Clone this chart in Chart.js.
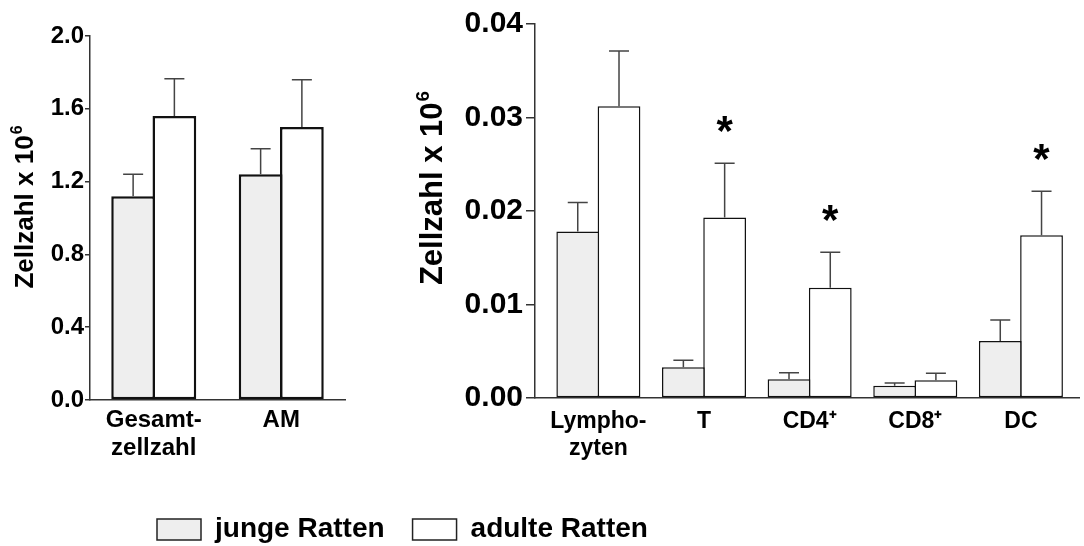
<!DOCTYPE html>
<html>
<head>
<meta charset="utf-8">
<script src="https://cdn.jsdelivr.net/npm/chart.js@4.4.1/dist/chart.umd.min.js"></script>
<style>
	body { margin: 0; background: #fff; }
	#wrap { position: relative; width: 1084px; height: 546px; overflow: hidden; }
	canvas { position: absolute; }
</style>
</head>
<body>
<div id="wrap">
	<canvas id="left" width="370" height="500" style="left:0;top:0;width:370px;height:500px"></canvas>
	<canvas id="right" width="704" height="500" style="left:380px;top:0;width:704px;height:500px"></canvas>
	<canvas id="legend" width="1084" height="300" style="left:0;top:400px;width:1084px;height:300px"></canvas>
</div>
<script>
var FONT = '"Liberation Sans", Arial, sans-serif';
var GREY = '#eeeeee';

var seriesNames = ['junge Ratten', 'adulte Ratten'];
var yTitle = 'Zellzahl x 10';
var yTitleSup = '6';

// left panel
var leftCats = [['Gesamt-', 'zellzahl'], 'AM'];
var leftJung = [1.12, 1.24];
var leftJungErr = [0.12, 0.14];
var leftAdult = [1.56, 1.50];
var leftAdultErr = [0.205, 0.26];
var leftTicks = [0, 0.4, 0.8, 1.2, 1.6, 2.0];
var leftTickLabels = ['0.0', '0.4', '0.8', '1.2', '1.6', '2.0'];

// right panel
var rightCats = [['Lympho-', 'zyten'], 'T', 'CD4\u207A', 'CD8\u207A', 'DC'];
var rightJung = [0.0178, 0.0033, 0.0020, 0.0013, 0.0061];
var rightJungErr = [0.0031, 0.00075, 0.0007, 0.0003, 0.00225];
var rightAdult = [0.0312, 0.0193, 0.0118, 0.0019, 0.0174];
var rightAdultErr = [0.0059, 0.0058, 0.0038, 0.00075, 0.0047];
var rightSig = [false, true, true, false, true];
var rightTicks = [0, 0.01, 0.02, 0.03, 0.04];
var rightTickLabels = ['0.00', '0.01', '0.02', '0.03', '0.04'];

// error bars (upwards only) + asterisks
var errorPlugin = {
	id: 'errs',
	afterDatasetsDraw: function(chart) {
		var ctx = chart.ctx;
		var yScale = chart.scales.y;
		var o = chart.options.plugins.errs;
		ctx.save();
		chart.data.datasets.forEach(function(ds, di) {
			var meta = chart.getDatasetMeta(di);
			meta.data.forEach(function(bar, i) {
				var v = typeof ds.data[i] === 'object' ? ds.data[i].y : ds.data[i];
				var top = yScale.getPixelForValue(v + ds.err[i]);
				ctx.strokeStyle = '#444';
				ctx.lineWidth = 1.5;
				ctx.beginPath();
				ctx.moveTo(bar.x, bar.y);
				ctx.lineTo(bar.x, top);
				ctx.moveTo(bar.x - o.cap, top);
				ctx.lineTo(bar.x + o.cap, top);
				ctx.stroke();
				if (ds.sig && ds.sig[i]) {
					ctx.font = 'bold ' + o.starSize + 'px ' + FONT;
					ctx.fillStyle = '#000';
					ctx.textAlign = 'center';
					ctx.textBaseline = 'alphabetic';
					var m = ctx.measureText('*');
					var c = top - o.starGap;
					var b = c - (m.actualBoundingBoxDescent - m.actualBoundingBoxAscent) / 2;
					ctx.fillText('*', bar.x, b);
				}
			});
		});
		ctx.restore();
	}
};

// rotated axis title with superscript
var titlePlugin = {
	id: 'ytitle',
	afterDraw: function(chart) {
		var o = chart.options.plugins.ytitle;
		var ctx = chart.ctx;
		var mainFont = 'bold ' + o.size + 'px ' + FONT;
		var supFont = 'bold ' + Math.round(o.size * 0.62) + 'px ' + FONT;
		ctx.save();
		ctx.translate(o.x, o.y);
		ctx.rotate(-Math.PI / 2);
		ctx.fillStyle = '#000';
		ctx.textBaseline = 'alphabetic';
		ctx.textAlign = 'left';
		ctx.font = mainFont;
		var w1 = ctx.measureText(yTitle).width;
		ctx.font = supFont;
		var w2 = ctx.measureText(yTitleSup).width;
		var start = -(w1 + w2 + 1) / 2;
		ctx.font = mainFont;
		ctx.fillText(yTitle, start, 0);
		ctx.font = supFont;
		ctx.fillText(yTitleSup, start + w1 + 1, -o.size * 0.42);
		ctx.restore();
	}
};

function barSet(label, values, errs, fill, bw, sig) {
	return {
		label: label,
		data: values,
		err: errs,
		sig: sig,
		backgroundColor: fill,
		borderColor: '#111',
		borderWidth: bw,
		borderSkipped: false
	};
}

// left chart
new Chart(document.getElementById('left'), {
	type: 'bar',
	data: {
		labels: leftCats,
		datasets: [
			barSet(seriesNames[0], leftJung, leftJungErr, GREY, 2.5),
			barSet(seriesNames[1], leftAdult, leftAdultErr, '#ffffff', 2.5)
		]
	},
	options: {
		animation: false,
		responsive: false,
		categoryPercentage: 82.5 / 127.5,
		barPercentage: 43.75 / 41.25,
		layout: { padding: { top: 36, right: 25, left: 0, bottom: 0 } },
		scales: {
			x: {
				grid: { display: false, drawTicks: false },
				border: { display: true, color: '#333', width: 1.5 },
				ticks: { color: '#000', padding: 6, maxRotation: 0, font: { family: FONT, size: 24, weight: 'bold', lineHeight: 1.17 } },
				afterFit: function(s) { s.height = 100; }
			},
			y: {
				min: 0,
				max: 2.0,
				grid: { drawOnChartArea: false, drawTicks: true, tickLength: 5, color: '#333', lineWidth: 1.5 },
				border: { display: true, color: '#333', width: 1.5 },
				afterBuildTicks: function(s) { s.ticks = leftTicks.map(function(v) { return { value: v }; }); },
				ticks: {
					color: '#000', padding: 1,
					font: { family: FONT, size: 24, weight: 'bold' },
					callback: function(v, i) { return leftTickLabels[i]; }
				},
				afterFit: function(s) { s.width = 90; }
			}
		},
		plugins: {
			legend: { display: false },
			tooltip: { enabled: false },
			errs: { cap: 10, starSize: 42, starGap: 39 },
			ytitle: { x: 33, y: 207, size: 26 }
		}
	},
	plugins: [errorPlugin, titlePlugin]
});

// right chart (linear x so the groups sit where the original put them)
function pts(values) {
	return values.map(function(v, i) { return { x: i, y: v }; });
}

new Chart(document.getElementById('right'), {
	type: 'bar',
	data: {
		datasets: [
			barSet(seriesNames[0], pts(rightJung), rightJungErr, GREY, 1.5),
			barSet(seriesNames[1], pts(rightAdult), rightAdultErr, '#ffffff', 1.5, rightSig)
		]
	},
	options: {
		animation: false,
		responsive: false,
		categoryPercentage: 82.5 / 105.6,
		barPercentage: 42.75 / 41.25,
		layout: { padding: { top: 24, right: 5, left: 0, bottom: 0 } },
		scales: {
			x: {
				type: 'linear',
				offset: false,
				min: -0.6,
				max: 4.55,
				grid: { display: false, drawTicks: false },
				border: { display: true, color: '#333', width: 1.5 },
				afterBuildTicks: function(s) { s.ticks = rightCats.map(function(c, i) { return { value: i }; }); },
				ticks: {
					color: '#000', padding: 10, maxRotation: 0, autoSkip: false,
					font: { family: FONT, size: 23, weight: 'bold', lineHeight: 1.17 },
					callback: function(v) { return rightCats[v]; }
				},
				afterFit: function(s) { s.height = 102; }
			},
			y: {
				min: 0,
				max: 0.04,
				grid: { drawOnChartArea: false, drawTicks: true, tickLength: 9, color: '#333', lineWidth: 1.5 },
				border: { display: true, color: '#333', width: 1.5 },
				afterBuildTicks: function(s) { s.ticks = rightTicks.map(function(v) { return { value: v }; }); },
				ticks: {
					color: '#000', padding: 3,
					font: { family: FONT, size: 30, weight: 'bold' },
					callback: function(v, i) { return rightTickLabels[i]; }
				},
				afterFit: function(s) { s.width = 155; }
			}
		},
		plugins: {
			legend: { display: false },
			tooltip: { enabled: false },
			errs: { cap: 10, starSize: 42, starGap: 39 },
			ytitle: { x: 62, y: 188, size: 31 }
		}
	},
	plugins: [errorPlugin, titlePlugin]
});

// shared legend
new Chart(document.getElementById('legend'), {
	type: 'bar',
	data: {
		labels: [],
		datasets: [
			{ label: seriesNames[0], data: [], backgroundColor: GREY, borderColor: '#222', borderWidth: 1.5 },
			{ label: seriesNames[1], data: [], backgroundColor: '#ffffff', borderColor: '#222', borderWidth: 1.5 }
		]
	},
	options: {
		animation: false,
		responsive: false,
		layout: { padding: { left: 129, top: 87.5 } },
		scales: { x: { display: false }, y: { display: false } },
		plugins: {
			tooltip: { enabled: false },
			legend: {
				position: 'top',
				align: 'start',
				onClick: null,
				labels: {
					boxWidth: 44, boxHeight: 21, padding: 28, color: '#000',
					font: { family: FONT, size: 28, weight: 'bold' }
				}
			}
		}
	}
});
</script>
</body>
</html>
